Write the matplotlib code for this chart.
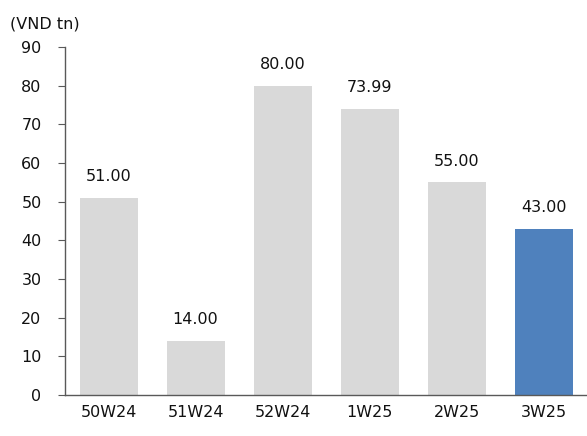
import matplotlib
matplotlib.use("Agg")
import matplotlib.pyplot as plt

weeks = ["50W24", "51W24", "52W24", "1W25", "2W25", "3W25"]
values = [51.00, 14.00, 80.00, 73.99, 55.00, 43.00]
colors = ["#d9d9d9"] * 5 + ["#4f81bd"]

plt.rcParams['font.family'] = ['DejaVu Sans']
plt.rcParams['font.size'] = 11.5

fig = plt.figure(figsize=(5.87, 4.36), dpi=100)
ax = fig.add_axes([0.111, 0.094, 0.889, 0.798])

x = range(len(weeks))
ax.bar(x, values, width=0.667, color=colors)
for i, v in enumerate(values):
    ax.text(i, v + 3.5, "%.2f" % v, ha="center", va="bottom", fontsize=11.5, color="#111111")

ax.set_xlim(-0.5, len(weeks) - 0.5)
ax.set_ylim(0, 90)
ax.set_yticks(range(0, 91, 10))
ax.set_xticks(list(x))
ax.set_xticklabels(weeks)

for s in ["top", "right"]:
    ax.spines[s].set_visible(False)
for s in ["left", "bottom"]:
    ax.spines[s].set_color("#595959")
    ax.spines[s].set_linewidth(1.0)
ax.tick_params(axis="y", length=5, color="#595959", pad=12, labelcolor="#111111")
ax.tick_params(axis="x", length=0, pad=7, labelcolor="#111111")

fig.text(0.017, 0.945, "(VND tn)", fontsize=11.5, color="#111111", va="center")

fig.savefig("out.png", dpi=100)
